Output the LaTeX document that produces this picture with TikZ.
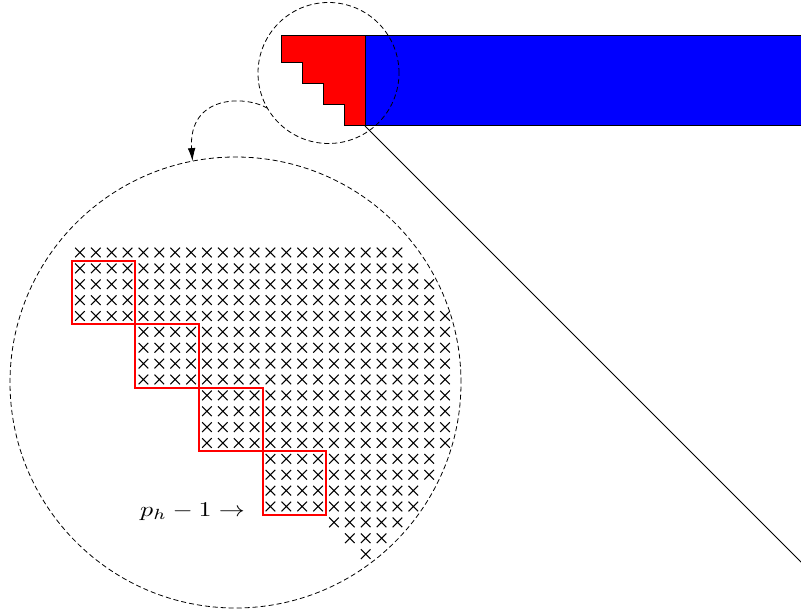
\documentclass[tikz,border=0pt]{standalone}
\usetikzlibrary{arrows.meta}
\definecolor{boxred}{RGB}{255,0,0}
\tikzset{
  dashcirc/.style={circle, draw, dash pattern=on 2.5pt off 1.5pt, line width=0.4pt, inner sep=0pt, outer sep=0pt},
  dasharrow/.style={draw, dash pattern=on 2.5pt off 1.5pt, line width=0.4pt, -{Latex[length=6.5pt,width=3.8pt]}},
  xmark/.style={draw, line width=0.5pt},
  redbox/.style={draw=boxred, line width=0.55pt},
  blockfill/.style={draw=black, line width=0.5pt},
}
\begin{document}
\begin{tikzpicture}[x=0.5pt,y=-0.5pt]
\useasboundingbox (0,0) rectangle (801,613);
\clip (0,0) rectangle (801,613);
% top band
\fill[blue] (365,36) rectangle (812,126);
\draw[blockfill] (812,36) -- (365,36) -- (365,126) -- (812,126);
\filldraw[fill=red, blockfill] (281,36) -- (365,36) -- (365,126) -- (344,126) -- (344,105) -- (323,105) -- (323,84) -- (302,84) -- (302,62.3) -- (281,62.3) -- cycle;
\coordinate (corner) at (365,126);
\coordinate (lineend) at (820,581);
\draw[line width=0.45pt] (corner) -- (lineend);
% circles
\node[dashcirc, minimum size=70.5pt] (small) at (328.5,73) {};
\node[dashcirc, minimum size=225.5pt] (big) at (235.5,382.5) {};
\draw[dasharrow] (small.210.5) .. controls (245,95) and (188,95) .. (big.101.6);
% crosses
\foreach \r/\a/\b in {0/0/20, 1/0/21, 2/0/22, 3/0/22, 4/0/23, 5/4/23, 6/4/23, 7/4/23, 8/4/23, 9/8/23, 10/8/23, 11/8/23, 12/8/23, 13/12/22, 14/12/22, 15/12/21, 16/12/21, 17/16/20, 18/17/19, 19/18/18}{
  \foreach \c in {\a,...,\b}{
    \draw[xmark] ({79.94+15.875*\c-4.8},{252.5+15.875*\r-4.8}) -- ++(9.6,9.6) ++(0,-9.6) -- ++(-9.6,9.6);
  }
}
% red diagonal blocks
\draw[redbox] (72,261) -- (135,261) -- (135,324) -- (72,324) -- cycle;
\draw[redbox] (135,324) -- (199,324) -- (199,388) -- (135,388) -- cycle;
\draw[redbox] (199,388) -- (263,388) -- (263,451) -- (199,451) -- cycle;
\draw[redbox] (263,451) -- (326,451) -- (326,515) -- (263,515) -- cycle;
\node[anchor=base, inner sep=0pt] (lbl) at (192.5,516.5) {\scalebox{1.3}[1.05]{$p_h - 1 \rightarrow$}};
\end{tikzpicture}
\end{document}
